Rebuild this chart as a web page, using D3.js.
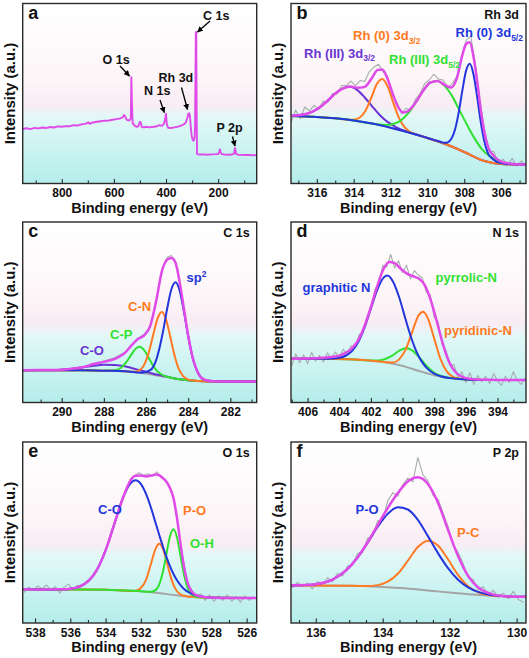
<!DOCTYPE html>
<html><head><meta charset="utf-8">
<script src="https://cdnjs.cloudflare.com/ajax/libs/d3/7.8.5/d3.min.js"></script>
<style>
html,body{margin:0;padding:0;background:#fff;}
svg{display:block;font-family:"Liberation Sans",Arial,sans-serif;font-weight:bold;}
</style></head><body>
<svg id="chart" width="529" height="658"></svg>
<script>
// ---------------- DATA (intensity in % of plot height) ----------------
// (a) survey
const surveyEnergy = [950,935,920,905,890,875,860,845,830,815,800,785,770,755,740,725,710,698,693,680,665,650,635,620,605,590,575,566,561,557,552,545,538,535,533,531,528,522,514,506,501,497,493,486,476,466,456,446,436,426,416,409,404,400,397,392,382,368,354,342,332,324,318,314,311,308,305,302,299,296,293,290,288.5,287,285.5,284,282.5,281,278,268,255,240,225,210,200,196,193,190,186,176,162,148,139,135,131,124,110,96,82,68,52];
const surveyIntensity = [30.3,30.7,30.2,30.9,30.6,31.1,30.8,31.4,31.1,31.7,31.5,31.9,31.8,32.4,32.2,32.9,33.1,34.0,33.2,33.9,34.3,34.6,34.9,35.0,35.4,35.8,36.2,36.8,38.0,37.3,35.6,35.0,35.4,36.5,59.0,45.0,33.5,32.4,31.5,31.8,34.2,34.0,31.4,31.2,31.5,31.2,31.4,31.5,31.8,32.4,32.0,33.0,35.2,38.8,33.0,31.0,30.8,31.2,31.6,32.2,32.8,33.9,36.5,38.8,39.0,37.2,31.5,27.0,24.8,23.8,24.0,26.0,32.0,60.0,84.0,84.2,40.0,16.5,16.2,16.1,16.2,16.0,16.2,16.3,16.4,17.6,19.0,17.0,16.3,16.1,16.0,16.1,16.6,19.7,16.5,16.0,15.9,15.8,15.9,15.7,15.8];
const surveyLabels = ["O 1s","N 1s","Rh 3d","C 1s","P 2p"];

// (b) Rh 3d
const rhRawX = [317.40,317.15,316.90,316.65,316.40,316.15,315.90,315.65,315.40,315.15,314.90,314.65,314.40,314.15,313.90,313.65,313.40,313.15,312.90,312.65,312.40,312.15,311.90,311.65,311.40,311.15,310.90,310.65,310.40,310.15,309.90,309.65,309.40,309.15,308.90,308.65,308.40,308.15,307.90,307.65,307.40,307.15,306.90,306.65,306.40,306.15,305.90,305.65,305.40,305.15,304.90,304.65];
const rhRawY = [33.7,40.8,36.0,42.5,40.3,43.4,41.0,45.8,45.1,50.0,49.8,54.4,54.4,56.9,54.4,57.2,56.7,62.2,64.7,66.2,62.0,59.3,48.5,45.0,38.7,41.8,40.5,46.8,49.8,55.5,57.5,60.7,58.0,57.5,53.0,55.5,59.5,70.0,79.5,82.0,66.5,46.0,29.9,18.0,17.8,11.1,13.6,10.2,14.0,9.7,12.6,9.6];
const rhFitX = [317.4,317.0,316.6,316.2,315.8,315.4,315.0,314.6,314.2,313.8,313.4,313.0,312.7,312.45,312.2,311.9,311.6,311.3,311.0,310.65,310.25,309.85,309.45,309.05,308.7,308.4,308.1,307.9,307.7,307.5,307.3,307.1,306.9,306.7,306.4,306.0,305.5,305.0,304.6];
const rhFitY = [37.7,37.9,38.6,40.1,42.6,46.1,50.0,52.7,53.9,53.2,53.7,58.8,63.1,63.3,59.1,50.5,42.7,39.4,40.6,44.8,51.2,56.0,57.0,54.7,53.3,58.5,71.5,77.5,78.5,70.5,56.8,40.6,27.9,20.1,15.3,12.2,11.1,10.6,10.6];
const rhBgX = [317.4,316,315,314,313,312,311,310,309,308,307.5,307,306.5,306,305,304.6];
const rhBgY = [37.5,37.0,36.2,35.0,33.3,31.0,28.3,25.3,21.8,17.5,15.1,12.8,11.5,10.9,10.6,10.6];
const rhIII32X = [317.4,316.6,316.2,315.8,315.4,315.0,314.6,314.2,313.8,313.4,313.0,312.6,312.2,311.8,311.4,311.0,310,309,308,307,306,305,304.6];
const rhIII32Y = [37.6,38.6,40.1,42.6,46.1,50.0,52.7,53.7,51.9,47.8,42.9,38.2,34.5,31.9,29.9,28.5,25.3,21.8,17.5,12.8,10.9,10.6,10.6];
const rh0_32X = [317.4,316,315,314.25,313.95,313.65,313.35,313.05,312.75,312.45,312.15,311.85,311.55,311.25,310.95,310.65,310,309,308,307,306,305,304.6];
const rh0_32Y = [37.5,37.0,36.2,35.4,35.5,36.8,40.6,47.5,55.1,58.1,53.8,44.9,36.6,31.4,28.7,27.3,25.3,21.8,17.5,12.8,10.9,10.6,10.6];
const rhIII52X = [317.4,316,315,314,313.05,312.65,312.25,311.85,311.45,311.05,310.65,310.25,309.85,309.45,309.05,308.65,308.25,307.85,307.45,307.05,306.65,306.25,305.85,305.45,304.6];
const rhIII52Y = [37.5,37.0,36.2,35.0,33.3,32.8,32.5,33.1,34.9,38.9,44.7,51.2,56.0,57.0,54.1,48.4,40.5,32.6,25.2,19.1,15.4,13.0,11.6,11.0,10.6];
const rh0_52X = [317.4,316,315,314,313,312,311,310,309.3,309.1,308.9,308.7,308.5,308.3,308.1,307.9,307.7,307.5,307.3,307.1,306.9,306.7,306.5,306.2,305.8,305,304.6];
const rh0_52Y = [37.5,37.0,36.2,35.0,33.3,31.0,28.3,25.3,23.2,22.6,22.8,24.8,30.0,39.5,51.9,62.7,66.5,60.7,48.2,33.9,23.0,16.5,14.0,11.9,11.0,10.6,10.6];

// (c) C 1s
const c1sRawX = [291.85,291,290.5,290,289.5,289,288.5,288,287.5,287,286.7,286.4,286.1,285.8,285.5,285.25,285.0,284.8,284.6,284.4,284.2,284.0,283.8,283.5,283.2,282.8,282.3,281.5,280.75];
const c1sRawY = [17.5,18.3,17.7,18.5,18.9,19.8,21.0,23.0,24.8,27.8,31.0,35.5,37.8,42.0,58.0,73.5,80.5,81.5,77.0,65.8,51.2,36.6,25.0,15.3,12.7,11.9,11.3,11.8,11.4];
const c1sFitX = [291.85,291,290.5,290,289.5,289,288.5,288,287.5,287,286.7,286.4,286.1,285.8,285.5,285.25,285.0,284.8,284.6,284.4,284.2,284.0,283.8,283.5,283.2,282.8,282.3,281.5,280.75];
const c1sFitY = [17.9,17.95,18.0,18.2,18.7,19.5,21.3,22.5,24.0,27.5,31.5,35.0,37.0,42.5,57.3,72.6,79.0,80.0,77.4,66.4,51.8,37.1,25.5,15.7,12.45,11.75,11.65,11.6,11.6];
const c1sBgX = [291.85,289,288,287,286,285.5,285,284.5,284,283.5,283,280.75];
const c1sBgY = [17.9,17.8,17.6,17.3,16.0,15.0,14.1,13.0,12.3,11.9,11.7,11.6];
const cOX = [291.85,291,290.5,290,289.5,289,288.5,288,287.5,287,286.7,286.4,286.1,285.8,285.5,285.0,284.5,284,283.5,283,280.75];
const cOY = [17.9,17.95,18.0,18.2,18.7,19.5,20.3,20.9,20.8,20.1,19.15,18.2,17.3,16.4,15.5,14.3,13.0,12.3,11.9,11.7,11.6];
const cPX = [291.85,289,288,287.5,287.2,286.9,286.7,286.5,286.3,286.1,285.9,285.7,285.5,285.3,285.1,284.8,284.5,284,283.5,283,280.75];
const cPY = [17.9,17.8,17.6,17.8,19.15,22.9,26.5,29.7,30.9,29.2,25.4,21.1,17.8,15.8,14.65,13.75,13.0,12.3,11.9,11.7,11.6];
const cNX = [291.85,289,288,287,286.6,286.3,286.05,285.85,285.65,285.45,285.25,285.05,284.85,284.65,284.45,284.25,284.0,283.7,283.3,283,280.75];
const cNY = [17.9,17.8,17.6,17.3,17.0,17.97,21.85,28.6,37.9,46.7,50.15,46.0,36.4,26.2,18.7,14.7,12.7,12.1,11.8,11.7,11.6];
const sp2X = [291.85,289,288,287,286.2,285.8,285.5,285.2,285.0,284.8,284.6,284.4,284.2,284.0,283.8,283.5,283.2,282.8,282,280.75];
const sp2Y = [17.9,17.8,17.6,17.3,16.5,17.9,24.2,38.9,51.8,62.6,66.6,61.8,50.2,36.7,25.4,15.7,12.45,11.75,11.65,11.6];

// (d) N 1s
const n1sRawX = [407.00,406.75,406.50,406.25,406.00,405.75,405.50,405.25,405.00,404.75,404.50,404.25,404.00,403.75,403.50,403.25,403.00,402.75,402.50,402.25,402.00,401.75,401.50,401.25,401.00,400.75,400.50,400.25,400.00,399.75,399.50,399.25,399.00,398.75,398.50,398.25,398.00,397.75,397.50,397.25,397.00,396.75,396.50,396.25,396.00,395.75,395.50,395.25,395.00,394.75,394.50,394.25,394.00,393.75,393.50,393.25,393.00,392.75,392.50,392.25];
const n1sRawY = [20.5,27.0,22.0,26.5,21.5,27.8,23.0,26.0,22.5,27.5,24.0,28.0,24.5,29.5,26.5,31.5,30.5,37.5,39.0,47.5,51.5,62.5,65.0,76.0,75.0,82.0,74.5,78.5,72.0,76.0,68.5,73.0,70.5,69.0,61.0,59.5,47.0,44.5,32.0,29.0,20.5,21.0,13.5,17.0,11.0,16.5,10.0,15.0,11.5,14.5,10.5,16.0,12.0,9.5,14.5,11.0,17.0,12.0,10.0,13.5];
const n1sFitX = [407.05,406,405,404.4,404,403.6,403.2,402.8,402.4,402,401.6,401.2,400.85,400.5,400.1,399.7,399.3,398.95,398.6,398.25,397.9,397.55,397.2,396.85,396.5,396.1,395.5,394.5,393.5,392.2];
const n1sFitY = [24.3,24.4,24.8,25.3,26.0,27.5,30.0,34.5,42.5,53.0,64.5,74.0,77.8,77.2,74.0,71.3,69.8,68.5,65.0,57.5,47.0,35.5,25.5,19.0,15.6,13.8,12.9,12.6,12.5,12.5];
const n1sBgX = [407.05,405,404,403,402,401,400,399,398,397,396,395,392.2];
const n1sBgY = [24.3,24.2,24.1,23.8,23.2,22.2,20.3,17.6,15.1,13.5,12.8,12.5,12.4];
const graphX = [407.05,405,404.4,404,403.6,403.2,402.8,402.4,402,401.6,401.2,400.95,400.6,400.2,399.8,399.4,399,398.7,398.4,398,397.6,397,396,395,392.2];
const graphY = [24.3,24.2,24.35,24.75,25.9,28.5,33.5,41.6,52.1,62.4,69.2,70.3,66.9,57.9,45.8,34.5,25.9,21.5,18.5,15.96,14.57,13.5,12.8,12.5,12.4];
const pyridX = [407.05,405,403,402,401.6,401.2,400.95,400.6,400.2,399.8,399.4,399,398.7,398.4,398,397.6,397.2,396.8,396.4,396,395,392.2];
const pyridY = [24.3,24.2,23.8,23.2,22.8,22.46,22.3,22.2,24.05,29.4,38.9,48.1,50.3,46.6,35.4,24.0,17.15,14.2,13.15,12.8,12.5,12.4];
const pyrrX = [407.05,405,403,402.4,402,401.6,401.2,400.95,400.6,400.2,399.8,399.4,399,398.7,398.4,398,397.6,397.2,396.8,396,395,392.2];
const pyrrY = [24.3,24.2,23.8,23.4,23.3,23.3,23.8,24.65,26.25,28.7,30.0,28.9,25.6,22.5,19.5,16.5,14.8,13.9,13.4,12.8,12.5,12.4];

// (e) O 1s
const o1sRawX = [538.60,538.35,538.10,537.85,537.60,537.35,537.10,536.85,536.60,536.35,536.10,535.85,535.60,535.35,535.10,534.85,534.60,534.35,534.10,533.85,533.60,533.35,533.10,532.85,532.60,532.35,532.10,531.85,531.60,531.35,531.10,530.85,530.60,530.35,530.10,529.85,529.60,529.35,529.10,528.85,528.60,528.35,528.10,527.85,527.60,527.35,527.10,526.85,526.60,526.35,526.10,525.85,525.60];
const o1sRawY = [17.0,19.8,18.0,20.5,19.0,21.0,18.2,20.2,16.5,19.8,21.5,18.5,20.8,20.0,23.0,24.0,28.5,31.5,38.5,44.0,52.5,59.0,67.5,72.8,79.5,81.5,83.0,81.5,82.5,81.0,83.5,81.0,79.5,74.0,67.5,50.5,35.0,22.0,18.0,15.0,16.0,12.5,15.5,12.0,15.0,12.5,15.5,12.0,14.5,11.5,15.0,12.5,14.5];
const o1sFitX = [538.7,537.5,536.5,536,535.5,535,534.5,534,533.5,533,532.6,532.3,532,531.7,531.4,531.15,530.95,530.75,530.55,530.35,530.15,529.95,529.75,529.55,529.35,529.1,528.8,528.4,527.8,527,525.43];
const o1sFitY = [18.6,18.55,18.6,18.95,20.0,22.95,29.2,40.1,54.8,69.5,78.5,81.3,81.5,81.0,81.5,82.0,81.5,80.0,78.0,74.6,69.0,58.0,43.7,30.8,22.3,17.2,15.2,14.4,14.0,13.85,13.8];
const o1sBgX = [538.7,536,534,533,532,531,530,529,528,525.43];
const o1sBgY = [18.6,18.5,18.4,18.0,17.5,16.6,15.3,14.4,14.0,13.8];
const coX = [538.7,537,536.5,536,535.5,535,534.5,534,533.5,533,532.6,532.3,532,531.7,531.4,531.15,530.95,530.75,530.55,530.35,530.15,529.95,529.75,529.55,529.35,529.1,528.8,528.4,527.8,525.43];
const coY = [18.6,18.55,18.6,18.95,20.0,22.95,29.2,40.1,54.8,69.5,77.05,78.9,76.9,71.2,62.9,54.8,48.45,42.25,36.5,31.4,27.1,23.65,20.9,18.8,17.3,16.05,15.04,14.41,14.0,13.8];
const poX = [538.7,536,534,533,532.6,532.3,532,531.7,531.4,531.15,530.95,530.75,530.55,530.35,530.15,529.95,529.75,529.55,529.35,529,528,525.43];
const poY = [18.6,18.5,18.4,18.0,17.7,17.8,19.3,24.0,33.6,41.4,43.85,41.05,34.5,27.0,21.1,17.55,15.76,15.02,14.65,14.4,14.0,13.8];
const ohX = [538.7,536,534,533,532,531.7,531.4,531.15,530.95,530.75,530.55,530.35,530.15,529.95,529.75,529.55,529.35,529.1,528.8,528.4,528,525.43];
const ohY = [18.6,18.5,18.4,18.0,17.5,17.2,17.3,18.3,21.45,28.15,38.1,47.8,51.8,47.25,37.0,26.6,19.5,15.65,14.4,14.15,14.0,13.8];

// (f) P 2p
const p2pRawX = [136.70,136.55,136.40,136.25,136.10,135.95,135.80,135.65,135.50,135.35,135.20,135.05,134.90,134.75,134.60,134.45,134.30,134.15,134.00,133.85,133.70,133.55,133.40,133.25,133.10,132.95,132.80,132.65,132.50,132.35,132.20,132.05,131.90,131.75,131.60,131.45,131.30,131.15,131.00,130.85,130.70,130.55,130.40,130.25,130.10,129.95,129.80];
const p2pRawY = [19.5,22.5,20.0,22.0,18.8,23.0,21.0,25.0,22.8,27.5,26.0,31.5,32.0,38.5,39.0,47.0,48.0,56.5,57.0,67.5,72.0,70.0,76.5,80.0,78.0,91.5,82.0,78.5,70.5,68.5,61.0,53.5,43.0,39.0,33.0,25.0,24.0,18.5,20.0,15.5,18.0,14.0,16.5,13.5,17.5,13.0,11.5];
const p2pFitX = [136.74,136,135.5,135.1,134.75,134.45,134.15,133.85,133.55,133.25,132.95,132.65,132.35,132.05,131.75,131.45,131.15,130.85,130.5,130,129.72];
const p2pFitY = [20.76,21.45,24.0,29.0,36.25,44.6,54.1,63.5,71.8,78.2,80.5,76.8,66.5,51.5,37.0,26.0,19.6,16.6,15.06,14.52,14.5];
const p2pBgX = [136.74,135,134,133.5,133,132.5,132,131.5,131,130.5,130,129.72];
const p2pBgY = [20.7,20.6,19.9,19.3,18.6,17.7,16.8,16.0,15.3,14.8,14.5,14.5];
const pOX = [136.74,136,135.5,135.1,134.75,134.45,134.15,133.85,133.55,133.25,132.95,132.65,132.35,132.05,131.75,131.45,131.15,130.85,130.5,130,129.72];
const pOY = [20.76,21.45,24.0,29.0,36.2,44.4,53.15,60.3,63.9,62.7,57.0,48.0,38.6,30.3,23.9,19.7,17.2,15.8,15.0,14.52,14.5];
const pCX = [136.74,135,134.75,134.45,134.15,133.85,133.55,133.25,132.95,132.65,132.35,132.05,131.75,131.45,131.15,130.85,130.5,130,129.72];
const pCY = [20.7,20.6,20.45,20.44,20.93,22.8,27.2,34.4,42.0,45.5,42.8,35.2,26.6,20.3,17.0,15.5,14.86,14.5,14.5];

// tick labels
const aTicks = [800,600,400,200], aMinor = [900,700,500,300,100];
const bTicks = [316,314,312,310,308,306], bMinor = [317,315,313,311,309,307,305];
const cTicks = [290,288,286,284,282], cMinor = [291,289,287,285,283,281];
const dTicks = [406,404,402,400,398,396,394], dMinor = [407,405,403,401,399,397,395,393];
const eTicks = [538,536,534,532,530,528,526], eMinor = [537,535,533,531,529,527];
const fTicks = [136,134,132,130], fMinor = [136.5,135.5,135,134.5,133.5,133,132.5,131.5,131,130.5];

// ---------------- DRAWING ----------------
const COL = {mag:'#e04ae8', blue:'#2236dc', orange:'#ff7a22', green:'#30e030', purple:'#6a34d2', raw:'#a6adad', bg:'#a4a4a4', axis:'#2a2a2a'};
const svg = d3.select('#chart');
const defs = svg.append('defs');
const grad = defs.append('linearGradient').attr('id','bgGrad').attr('x1',0).attr('y1',0).attr('x2',0).attr('y2',1);
[[0,'#ffffff'],[0.40,'#fdf6f9'],[0.56,'#f9ecf3'],[0.63,'#e2f8f7'],[0.82,'#c9f3f1'],[1,'#b4edeb']]
  .forEach(([o,c]) => grad.append('stop').attr('offset',o).attr('stop-color',c));
defs.append('marker').attr('id','arrow').attr('viewBox','0 0 10 10').attr('refX',9).attr('refY',5)
  .attr('markerWidth',6).attr('markerHeight',6).attr('markerUnits','userSpaceOnUse').attr('orient','auto')
  .append('path').attr('d','M0,0L10,5L0,10z').attr('fill','#000');

const LEFT = [22.7, 256.7], RIGHT = [291, 526];
const ROWS = [[3.5,183.5],[222,402.5],[442,623]];

function addText(g, x, y, parts, color, size, anchor) {
  const t = g.append('text').attr('x',x).attr('y',y).attr('fill',color)
    .attr('font-size',size).attr('font-weight','bold').attr('text-anchor',anchor||'start');
  parts.forEach(p => {
    if (typeof p === 'string') t.append('tspan').text(p);
    else t.append('tspan').attr('font-size',p.s).attr('dy',p.dy).text(p.t);
  });
  return t;
}

function panel(o) {
  const [left,right] = o.cols, [top,bottom] = o.rows;
  const g = svg.append('g');
  const x = d3.scaleLinear().domain(o.dom).range([left,right]);
  const y = d3.scaleLinear().domain([0,100]).range([bottom,top]);
  const cid = 'clip' + o.id;
  defs.append('clipPath').attr('id',cid).append('rect')
    .attr('x',left).attr('y',top).attr('width',right-left).attr('height',bottom-top);
  g.append('rect').attr('x',left).attr('y',top).attr('width',right-left).attr('height',bottom-top)
    .attr('fill','url(#bgGrad)');
  const lg = g.append('g').attr('clip-path',`url(#${cid})`);
  o.series.forEach(s => {
    lg.append('path').datum(d3.zip(s.x, s.y))
      .attr('d', d3.line().x(d => x(d[0])).y(d => y(d[1])).curve(s.curve || d3.curveMonotoneX))
      .attr('fill','none').attr('stroke',s.c).attr('stroke-width',s.w)
      .attr('stroke-linejoin','round').attr('stroke-linecap','round');
  });
  // axes
  const ax = g.append('g').attr('transform',`translate(0,${bottom})`)
    .call(d3.axisBottom(x).tickValues(o.major).tickSize(-4.5).tickPadding(5).tickFormat(d3.format('d')));
  ax.select('.domain').remove();
  ax.selectAll('line').attr('stroke',COL.axis).attr('stroke-width',1.1);
  ax.selectAll('text').attr('font-size',12).attr('font-weight','bold').attr('fill','#111')
    .attr('font-family','"Liberation Sans",Arial,sans-serif');
  const mx = g.append('g').attr('transform',`translate(0,${bottom})`)
    .call(d3.axisBottom(x).tickValues(o.minor).tickSize(-3).tickFormat(''));
  mx.select('.domain').remove();
  mx.selectAll('line').attr('stroke',COL.axis).attr('stroke-width',1.1);
  // frame
  g.append('rect').attr('x',left).attr('y',top).attr('width',right-left).attr('height',bottom-top)
    .attr('fill','none').attr('stroke',COL.axis).attr('stroke-width',1.4);
  // titles
  addText(g, (left+right)/2, bottom+29, ['Binding energy (eV)'], '#111', 14.5, 'middle');
  const cy = (top+bottom)/2, tx = left - 8;
  g.append('text').attr('transform',`translate(${tx},${cy}) rotate(-90)`).attr('text-anchor','middle')
    .attr('font-size',15).attr('font-weight','bold').attr('fill','#111').text('Intensity (a.u.)');
  addText(g, left+5.5, top+15, [o.id], '#111', 18);
  if (o.title) addText(g, right-7, top+15, [o.title], '#111', 12.5, 'end');
  (o.labels||[]).forEach(l => addText(g, l.x, l.y, l.parts, l.c, l.s || 13));
  (o.arrows||[]).forEach(a => g.append('line').attr('x1',a[0]).attr('y1',a[1]).attr('x2',a[2]).attr('y2',a[3])
      .attr('stroke','#000').attr('stroke-width',1.3).attr('marker-end','url(#arrow)'));
  return g;
}

const sub = t => ({t, s:8.5, dy:3.5});
const sup = t => ({t, s:8.5, dy:-5});

function detail(rawX, rawY, bgX, bgY, comps, fitX, fitY) {
  const s = [{x:rawX,y:rawY,c:COL.raw,w:1.1,curve:d3.curveLinear},{x:bgX,y:bgY,c:COL.bg,w:2}];
  comps.forEach(cp => s.push({x:cp[0],y:cp[1],c:cp[2],w:2}));
  s.push({x:fitX,y:fitY,c:COL.mag,w:2.5});
  return s;
}

// (a)
panel({id:'a', cols:LEFT, rows:ROWS[0], dom:[950,52], major:aTicks, minor:aMinor,
  series:[{x:surveyEnergy,y:surveyIntensity,c:COL.mag,w:1.9,curve:d3.curveLinear}],
  labels:[
    {x:102.5,y:63.5,parts:[surveyLabels[0]],c:'#111',s:12.5},
    {x:144,y:95,parts:[surveyLabels[1]],c:'#111',s:12.5},
    {x:158.5,y:81.5,parts:[surveyLabels[2]],c:'#111',s:12.5},
    {x:203,y:20,parts:[surveyLabels[3]],c:'#111',s:12.5},
    {x:216.5,y:131.5,parts:[surveyLabels[4]],c:'#111',s:12.5}],
  arrows:[[120,66,129.5,76],[160,100,164.3,112.5],[181.5,87.5,187.5,109.5],[210,21,197.5,32],[232.5,136.5,235,146]]
});
// (b)
panel({id:'b', cols:RIGHT, rows:ROWS[0], dom:[317.4,304.65], major:bTicks, minor:bMinor, title:'Rh 3d',
  series:detail(rhRawX,rhRawY,rhBgX,rhBgY,
    [[rhIII32X,rhIII32Y,COL.purple],[rh0_32X,rh0_32Y,COL.orange],[rhIII52X,rhIII52Y,COL.green],[rh0_52X,rh0_52Y,COL.blue]],
    rhFitX,rhFitY),
  labels:[
    {x:353,y:40,parts:['Rh (0) 3d',sub('3/2')],c:COL.orange},
    {x:455.5,y:37,parts:['Rh (0) 3d',sub('5/2')],c:COL.blue},
    {x:304,y:57.5,parts:['Rh (III) 3d',sub('3/2')],c:COL.purple},
    {x:389,y:64,parts:['Rh (III) 3d',sub('5/2')],c:COL.green}]
});
// (c)
panel({id:'c', cols:LEFT, rows:ROWS[1], dom:[291.85,280.75], major:cTicks, minor:cMinor, title:'C 1s',
  series:detail(c1sRawX,c1sRawY,c1sBgX,c1sBgY,
    [[cOX,cOY,COL.purple],[cPX,cPY,COL.green],[cNX,cNY,COL.orange],[sp2X,sp2Y,COL.blue]],
    c1sFitX,c1sFitY),
  labels:[
    {x:186.5,y:281.5,parts:['sp',sup('2')],c:COL.blue},
    {x:128,y:311,parts:['C-N'],c:COL.orange},
    {x:110,y:338.5,parts:['C-P'],c:COL.green},
    {x:80,y:354.5,parts:['C-O'],c:COL.purple}]
});
// (d)
panel({id:'d', cols:RIGHT, rows:ROWS[1], dom:[407.05,392.2], major:dTicks, minor:dMinor, title:'N 1s',
  series:detail(n1sRawX,n1sRawY,n1sBgX,n1sBgY,
    [[pyrrX,pyrrY,COL.green],[pyridX,pyridY,COL.orange],[graphX,graphY,COL.blue]],
    n1sFitX,n1sFitY),
  labels:[
    {x:302.5,y:292,parts:['graphitic N'],c:COL.blue},
    {x:435.5,y:281.5,parts:['pyrrolic-N'],c:COL.green},
    {x:444,y:334.5,parts:['pyridinic-N'],c:COL.orange}]
});
// (e)
panel({id:'e', cols:LEFT, rows:ROWS[2], dom:[538.7,525.43], major:eTicks, minor:eMinor, title:'O 1s',
  series:detail(o1sRawX,o1sRawY,o1sBgX,o1sBgY,
    [[poX,poY,COL.orange],[ohX,ohY,COL.green],[coX,coY,COL.blue]],
    o1sFitX,o1sFitY),
  labels:[
    {x:98,y:513.5,parts:['C-O'],c:COL.blue},
    {x:183,y:514.5,parts:['P-O'],c:COL.orange},
    {x:190,y:548,parts:['O-H'],c:COL.green}]
});
// (f)
panel({id:'f', cols:RIGHT, rows:ROWS[2], dom:[136.74,129.72], major:fTicks, minor:fMinor, title:'P 2p',
  series:detail(p2pRawX,p2pRawY,p2pBgX,p2pBgY,
    [[pCX,pCY,COL.orange],[pOX,pOY,COL.blue]],
    p2pFitX,p2pFitY),
  labels:[
    {x:355.5,y:514,parts:['P-O'],c:COL.blue},
    {x:457,y:536.5,parts:['P-C'],c:COL.orange}]
});
</script>
</body></html>
